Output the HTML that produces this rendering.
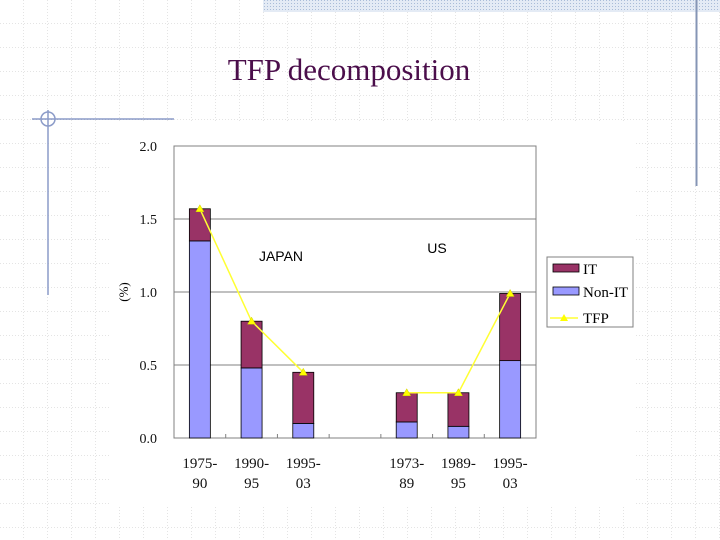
<!DOCTYPE html>
<html><head><meta charset="utf-8"><style>
body{margin:0;width:720px;height:540px;overflow:hidden;background:#fff;font-family:"Liberation Serif",serif;}
svg{display:block}
</style></head><body>
<svg width="720" height="540" xmlns="http://www.w3.org/2000/svg">
<defs>
<pattern id="grid" width="24" height="24" patternUnits="userSpaceOnUse">
<path d="M24 0V24M0 24H24" stroke="#c8c8c8" stroke-width="1" stroke-dasharray="1,2" fill="none"/>
</pattern>
<pattern id="hatch" width="3" height="3" patternUnits="userSpaceOnUse">
<rect width="3" height="3" fill="#e4ebf5"/><rect width="1" height="1" fill="#a9bcd8"/>
</pattern>
</defs>
<rect x="0" y="0" width="720" height="540" fill="url(#grid)"/>
<rect x="263" y="0" width="457" height="12" fill="url(#hatch)"/>
<line x1="696.5" y1="0" x2="696.5" y2="186" stroke="#8595b5" stroke-width="2"/>
<rect x="110" y="121" width="526" height="384" fill="#fff"/>
<g stroke="#8b9bc8" stroke-width="1.5" fill="none">
<line x1="32" y1="119" x2="174" y2="119"/><line x1="48" y1="110" x2="48" y2="295"/><circle cx="48" cy="119" r="7"/>
</g>
<text x="349" y="80" text-anchor="middle" font-size="31" fill="#4b0e4b">TFP decomposition</text>
<g id="chart"></g>
</svg>
<script>
const categories=["1975-|90","1990-|95","1995-|03","","1973-|89","1989-|95","1995-|03"];
const nonIT=[1.35,0.48,0.10,null,0.11,0.08,0.53];
const itVals=[0.22,0.32,0.35,null,0.20,0.23,0.46];
const tfp=[1.57,0.80,0.45,null,0.31,0.31,0.99];
const yTicks=[0,0.5,1.0,1.5,2.0];
const NS="http://www.w3.org/2000/svg";
const g=document.getElementById('chart');
const X0=174,X1=536,Y0=438,Y1=146,ymax=2;
const slot=(X1-X0)/categories.length;
const xc=i=>X0+slot*(i+0.5);
const yv=v=>Y0-(v/ymax)*(Y0-Y1);
function mk(t,a){const e=document.createElementNS(NS,t);for(const k in a)e.setAttribute(k,a[k]);g.appendChild(e);return e;}
const frame=mk('rect',{x:X0,y:Y1,width:X1-X0,height:Y0-Y1,fill:'none',stroke:'#808080','stroke-width':1});


yTicks.forEach(v=>{
 if(v>0&&v<ymax){const l=mk('line',{x1:X0,x2:X1,y1:yv(v),y2:yv(v),stroke:'#808080','stroke-width':1});
 
 }
 const t=mk('text',{x:157,y:yv(v)+5,'text-anchor':'end','font-size':14,fill:'#111'});
 t.textContent=v.toFixed(1);
 
 
});
const yt=mk('text',{x:128,y:292,'text-anchor':'middle','font-size':13,transform:'rotate(-90 128 292)'});
yt.textContent='(%)';


for(let i=1;i<categories.length;i++){const l=mk('line',{x1:X0+slot*i,x2:X0+slot*i,y1:Y0,y2:Y0-4,stroke:'#808080'});
 
 }
const bw=21;
categories.forEach((c,i)=>{
 if(nonIT[i]==null)return;
 const b1=mk('rect',{x:xc(i)-bw/2,y:yv(nonIT[i]),width:bw,height:Y0-yv(nonIT[i]),fill:'#9999ff',stroke:'#000','stroke-width':0.8});
 
 
 const top=nonIT[i]+itVals[i];
 const b2=mk('rect',{x:xc(i)-bw/2,y:yv(top),width:bw,height:yv(nonIT[i])-yv(top),fill:'#993366',stroke:'#000','stroke-width':0.8});
 
 
 const parts=c.split('|');
 parts.forEach((p,k)=>{const t=mk('text',{x:xc(i),y:468+k*20,'text-anchor':'middle','font-size':15,fill:'#111'});t.textContent=p;
 
 });
});
[[0,1,2],[4,5,6]].forEach(grp=>{
 const pl=mk('polyline',{points:grp.map(i=>xc(i)+','+yv(tfp[i])).join(' '),fill:'none',stroke:'#ffff33','stroke-width':1.5});
 
 
 grp.forEach(i=>{const x=xc(i),y=yv(tfp[i]);
  const m=mk('polygon',{points:`${x},${y-4} ${x-4},${y+3} ${x+4},${y+3}`,fill:'#ffff00',stroke:'#cccc00','stroke-width':0.5});
  
  });
});
const jp=mk('text',{x:281,y:261,'text-anchor':'middle','font-size':14,'font-family':'Liberation Sans, sans-serif'});jp.textContent='JAPAN';


const us=mk('text',{x:437,y:253,'text-anchor':'middle','font-size':14,'font-family':'Liberation Sans, sans-serif'});us.textContent='US';


const lg=mk('rect',{x:547,y:257,width:86,height:70,fill:'#fff',stroke:'#808080'});


[['IT','#993366'],['Non-IT','#9999ff']].forEach((e,k)=>{
 const r=mk('rect',{x:553,y:264+k*23,width:26,height:8,fill:e[1],stroke:'#000','stroke-width':0.8});
 
 
 const t=mk('text',{x:583,y:274+k*23,'font-size':15});t.textContent=e[0];
 
 
});
const ll=mk('line',{x1:550,x2:578,y1:318,y2:318,stroke:'#ffff33','stroke-width':1.5});


const lm=mk('polygon',{points:'564,314 560,321 568,321',fill:'#ffff00'});


const lt=mk('text',{x:583,y:323,'font-size':15});lt.textContent='TFP';


</script>
</body></html>
